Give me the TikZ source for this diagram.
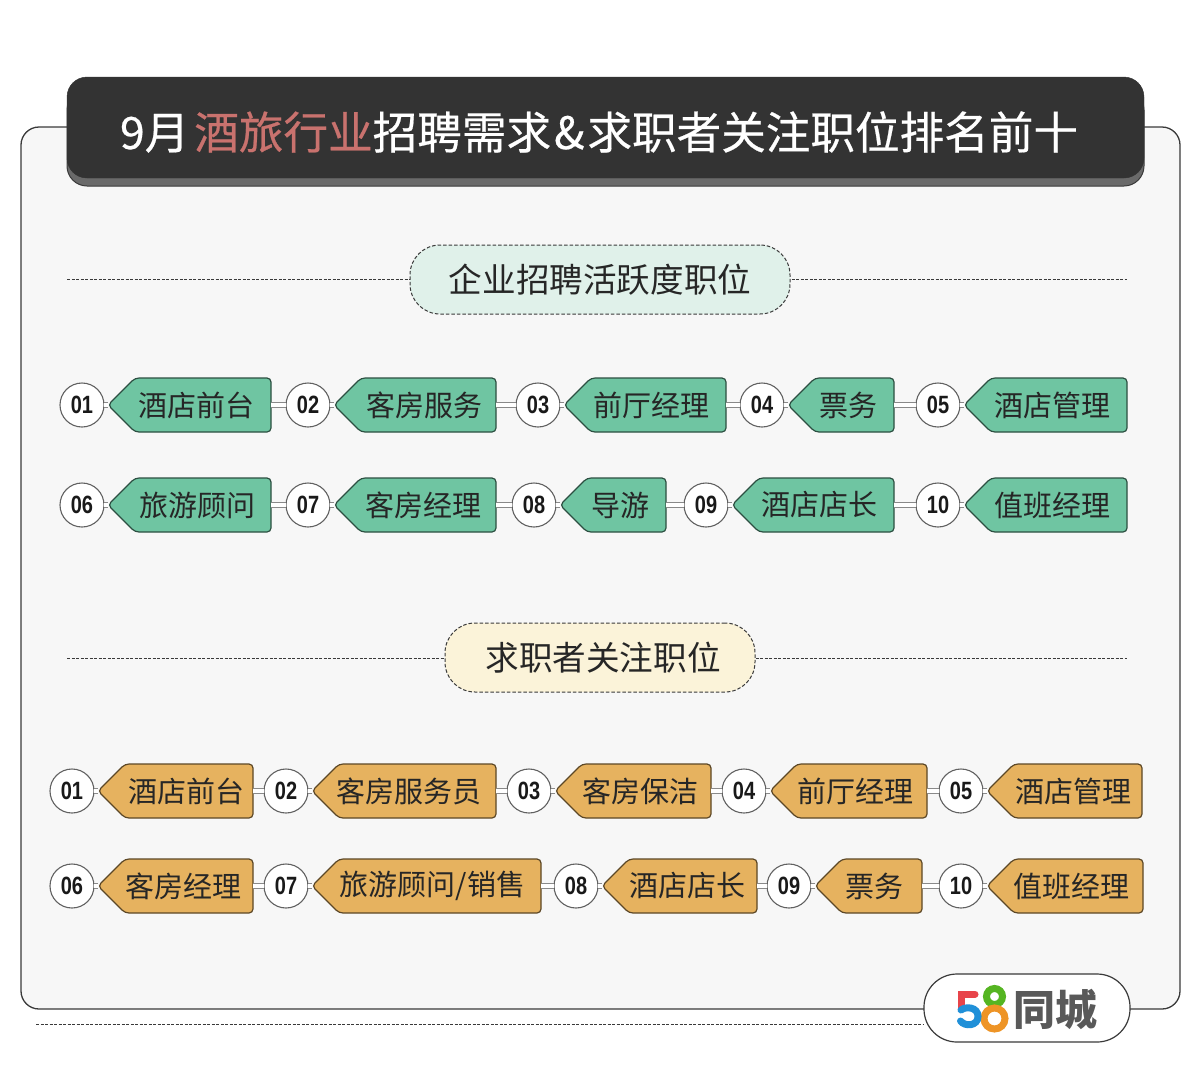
\documentclass[tikz,border=0pt]{standalone}
\usepackage{fontspec}
\setmainfont{Noto Sans CJK SC}
\newfontfamily\numfont[FakeStretch=0.8]{Liberation Sans}
\newfontfamily\titlefont[FakeBold=0.5]{Noto Sans CJK SC}
\definecolor{cardgray}{HTML}{F7F7F7}
\definecolor{linegray}{HTML}{3A3A3A}
\definecolor{titledark}{HTML}{333333}
\definecolor{titleedge}{HTML}{6A6A6A}
\definecolor{titlered}{HTML}{C9726E}
\definecolor{pillgreen}{HTML}{E0F1EA}
\definecolor{pillyellow}{HTML}{FBF3D9}
\definecolor{taggreen}{HTML}{6FC5A2}
\definecolor{tagorange}{HTML}{E6B25F}
\definecolor{logored}{HTML}{E8444A}
\definecolor{logoblue}{HTML}{2090D8}
\definecolor{logogreen}{HTML}{55B522}
\definecolor{logoorange}{HTML}{EE9426}
\tikzset{
  card/.style={draw=linegray,line width=1.3pt,rounded corners=18pt,fill=cardgray},
  rule/.style={draw=linegray,line width=0.8pt,dash pattern=on 3pt off 1.5pt},
  pill/.style={draw=linegray,line width=1pt,dash pattern=on 3.5pt off 2pt,rounded corners=30pt,font=\fontsize{33.6}{34}\selectfont,text=black!85},
  numcirc/.style={circle,draw=linegray!80,line width=1.1pt,fill=white,minimum size=44pt,inner sep=0pt,outer sep=0pt,font=\numfont\bfseries\fontsize{25}{25}\selectfont,text=black!90},
  tagbox/.style={line width=1.2pt,rounded corners=4pt},
  tagtext/.style={anchor=east,minimum height=54pt,inner ysep=0pt,outer sep=0pt,align=right,font=\fontsize{29}{29}\selectfont,text=black!85},
  link/.style={draw=linegray!60,line width=0.9pt,double=white,double distance=4pt}
}
\newcommand{\tagitems}[2]{%
\foreach \n/\num/\cx/\tl/\tr/\y/\pd/\lab in {#2} {
  \node[numcirc] (c\n) at (\cx,\y) {\num};
  \draw[tagbox,draw=#1!40!black,fill=#1] (\tl,\y) -- (\tl+27,\y-27) -- (\tr,\y-27) -- (\tr,\y+27) -- (\tl+27,\y+27) -- cycle;
  \pgfmathsetmacro{\tw}{\tr-\tl-2*\pd}
  \node[tagtext,inner xsep=\pd pt,text width=\tw pt] (t\n) at (\tr,\y) {\lab};
  \coordinate (tip\n) at (\tl,\y);
  \draw[link] (c\n.east) -- (tip\n);
}}
\begin{document}
\begin{tikzpicture}[x=1pt,y=-1pt]
\useasboundingbox (0,0) rectangle (1200,1088);
% card and title bar
\draw[card] (21,127) rectangle (1180,1009);
\draw[draw=linegray,fill=titleedge,line width=1pt,rounded corners=20pt] (67,90) rectangle (1144,186);
\draw[draw=titledark,fill=titledark,rounded corners=20pt] (67,77) rectangle (1144,178);
\node[text=white,font=\titlefont\fontsize{44.6}{46}\selectfont] (title) at (599,132) {9月\hspace{5pt}\textcolor{titlered}{酒旅行业}招聘需求\hspace{3pt}\&\hspace{3pt}求职者关注职位排名前十};
% section heads
\coordinate (ruleAl) at (67,279);
\coordinate (ruleAr) at (1127,279);
\coordinate (ruleBl) at (67,658);
\coordinate (ruleBr) at (1127,658);
\draw[rule] (ruleAl) -- (ruleAr);
\draw[rule] (ruleBl) -- (ruleBr);
\node[pill,fill=pillgreen,minimum width=380pt,minimum height=69pt,inner sep=0pt] (headA) at (600,279.5) {企业招聘活跃度职位};
\node[pill,fill=pillyellow,minimum width=310pt,minimum height=69pt,inner sep=0pt] (headB) at (600,657.5) {\hspace{6pt}求职者关注职位};
% green rows
\tagitems{taggreen}{
  a1/01/82/108/271/405/17/酒店前台, a2/02/308/334/496/405/14/客房服务, a3/03/538/564/726/405/17/前厅经理,
  a4/04/762/788/894/405/17/票务, a5/05/938/964/1127/405/17/酒店管理,
  a6/06/82/108/271/505/16/旅游顾问, a7/07/308/334/496/505/15/客房经理, a8/08/534/560/666/505/17/导游,
  a9/09/706/732/894/505/17/酒店店长, a10/10/938/964/1127/505/17/值班经理}
% orange rows
\tagitems{tagorange}{
  b1/01/72/98/253/791/9/酒店前台, b2/02/286/312/496/791/15/客房服务员, b3/03/529/555/711/791/13/客房保洁,
  b4/04/744/770/927/791/14/前厅经理, b5/05/961/987/1142/791/11/酒店管理,
  b6/06/72/98/253/886/12/客房经理, b7/07/286/312/541/886/16/{旅游顾问/销售}, b8/08/576/602/757/886/12/酒店店长,
  b9/09/789/815/922/886/19/票务, b10/10/961/987/1143/886/14/值班经理}
% links between tags
\foreach \a/\b in {a1/a2,a2/a3,a3/a4,a4/a5,a6/a7,a7/a8,a8/a9,a9/a10,b1/b2,b2/b3,b3/b4,b4/b5,b6/b7,b7/b8,b8/b9,b9/b10}
  \draw[link] (t\a.east) -- (c\b.west);
% logo
\coordinate (footl) at (36,1024);
\node[draw=linegray,line width=1.2pt,fill=white,rounded corners=33pt,minimum width=206pt,minimum height=68pt,inner sep=0pt] (logo) at (1027,1008) {};
\draw[rule] (footl) -- (logo.west |- footl);
\draw[logogreen,line width=7pt] (994.5,996.5) circle (8);
\draw[logoorange,line width=7pt] (994.5,1018.5) circle (10.5);
\draw[logored,line width=7pt,line cap=round] (975,994) -- (961.5,994) -- (961.5,1008);
\draw[logoblue,line width=7pt,line cap=round] (961,1010) .. controls (966,1006) and (978,1007) .. (978,1016.5) .. controls (978,1026) and (965,1027) .. (960.5,1021);
\node[text=black!65,font=\bfseries\fontsize{42}{42}\selectfont,inner sep=0pt] (logotext) at (1055,1009) {同城};
\end{tikzpicture}
\end{document}
